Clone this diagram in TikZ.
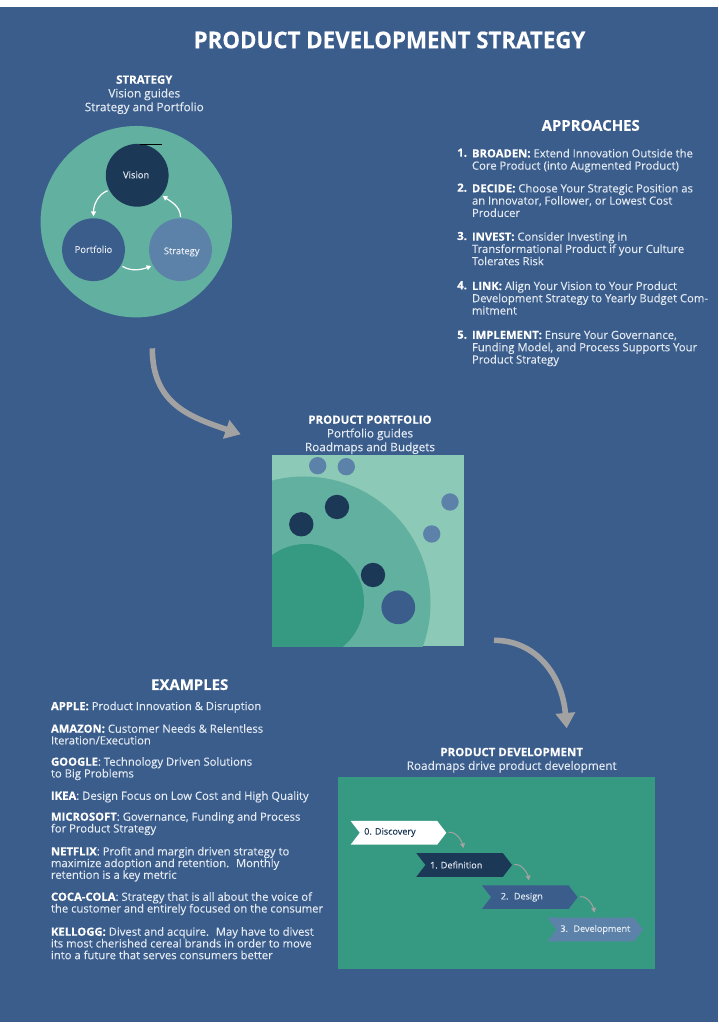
\documentclass[tikz,border=0pt]{standalone}
\usepackage{fontspec}
\setmainfont{Open Sans}[UprightFeatures={FakeBold=0.12},BoldFeatures={FakeBold=0.25}]
\usetikzlibrary{arrows.meta,shapes.symbols}
\definecolor{pagebg}{HTML}{3B5D8C}
\definecolor{softgreen}{HTML}{62B0A0}
\definecolor{deepgreen}{HTML}{369A83}
\definecolor{palegreen}{HTML}{8CC9B6}
\definecolor{navy}{HTML}{1C3857}
\definecolor{steel}{HTML}{5C82AA}
\definecolor{bodywhite}{HTML}{E4EAF2}
\definecolor{arrowgray}{HTML}{A2A2A2}
\tikzset{
  x=.75pt,y=.75pt,
  disc/.style={circle,minimum size=47.1pt,inner sep=0pt,outer sep=0pt,draw=none,text=bodywhite,font=\fontsize{7}{8}\selectfont},
  dot/.style={circle,inner sep=0pt,outer sep=0pt,draw=none},
  bodytext/.style={anchor=north west,inner sep=0pt,outer sep=0pt,align=left,text=bodywhite,yshift=5.9pt,
    execute at begin node={\rule{0pt}{7pt}}},
  appfont/.style={font=\fontsize{8.45}{9.2}\selectfont},
  exfont/.style={font=\fontsize{8.45}{8.8}\selectfont,yshift=.5pt},
  numtext/.style={anchor=base west,inner sep=0pt,outer sep=0pt,text=white,font=\fontsize{8.45}{9.2}\selectfont\bfseries},
  headtext/.style={anchor=north,inner sep=0pt,outer sep=0pt,align=center,text=bodywhite,yshift=5.9pt,
    font=\fontsize{8.8}{10.3}\selectfont,execute at begin node={\rule{0pt}{7pt}}},
  section/.style={anchor=base,inner sep=0pt,outer sep=0pt,text=white,font=\fontsize{11.2}{12}\selectfont\bfseries},
  chevron/.style={signal,signal to=east,signal from=west,signal pointer angle=105,
    minimum width=71.7pt,minimum height=17.7pt,inner sep=0pt,outer sep=0pt,draw=none},
  chevlabel/.style={font=\fontsize{6.8}{8}\selectfont,inner sep=0pt,outer sep=0pt},
  whitearrow/.style={draw=white,line width=.9pt,-{Triangle[width=3.6pt,length=3.6pt]}},
  grayarrow/.style={draw=arrowgray,line width=.75pt,-{Triangle[width=3.6pt,length=3.6pt]}},
  bigarrow/.style={draw=arrowgray,line width=4.2pt,-{Triangle[width=14.2pt,length=11.5pt]}},
}
\newcommand{\hb}[1]{\textbf{\color{white}#1}}
\newcommand{\hh}[1]{{\fontsize{8.6}{10.3}\selectfont\hb{#1}}}
\begin{document}
\begin{tikzpicture}
\useasboundingbox (0,0) rectangle (718,1024);
\fill[white] (0,0) rectangle (718,1024);
\fill[pagebg] (0,1.5) rectangle (718,1016.5);

\node[anchor=base,inner sep=0pt,text=white,xscale=.96,font=\fontsize{17.4}{20}\selectfont\bfseries] (title) at (389.5,975.7) {PRODUCT DEVELOPMENT STRATEGY};

% strategy
\node[headtext] (stratHead) at (144.3,940.7) {\hh{STRATEGY}\\Vision guides\\Strategy and Portfolio};
\fill[softgreen] (136.3,802.3) circle (95.7);
\node[disc,fill=navy,label={[text=bodywhite,font=\fontsize{7}{8}\selectfont,xshift=-.8pt,yshift=.3pt]center:Vision}] (vision) at (137.2,848.7) {};
\node[disc,fill=pagebg,label={[text=bodywhite,font=\fontsize{7}{8}\selectfont,yshift=.3pt]center:Portfolio}] (portfolio) at (93.5,774.3) {};
\node[disc,fill=steel,label={[text=bodywhite,font=\fontsize{7}{8}\selectfont,xshift=.9pt,yshift=-1.7pt]center:Strategy}] (strategy) at (180.5,774.3) {};
\draw[black,line width=.6pt] (140,879.7) -- (161.7,879.7);
\draw[whitearrow,shorten <=1.5pt,shorten >=1.5pt] (vision.208) to[out=200,in=90] (portfolio.north);
\draw[whitearrow,shorten <=1.5pt,shorten >=1.5pt] (portfolio.-30) to[out=-30,in=200] (strategy.210);
\draw[whitearrow,shorten <=1pt,shorten >=1pt] (strategy.north) to[out=90,in=-35] (vision.-39);

% approaches
\node[section] (appHead) at (590.7,893.2) {APPROACHES};
\node[numtext] (n1) at (457.3,867.3) {1.};
\node[bodytext,appfont] (a1) at (472,867.3) {\hb{BROADEN:} Extend Innovation Outside the\\Core Product (into Augmented Product)};
\node[numtext] (n2) at (457.3,832.3) {2.};
\node[bodytext,appfont] (a2) at (472,832.3) {\hb{DECIDE:} Choose Your Strategic Position as\\an Innovator, Follower, or Lowest Cost\\Producer};
\node[numtext] (n3) at (457.3,784) {3.};
\node[bodytext,appfont] (a3) at (472,784) {\hb{INVEST:} Consider Investing in\\Transformational Product if your Culture\\Tolerates Risk};
\node[numtext] (n4) at (457.3,734.7) {4.};
\node[bodytext,appfont] (a4) at (472,734.7) {\hb{LINK:} Align Your Vision to Your Product\\Development Strategy to Yearly Budget Com-\\mitment};
\node[numtext] (n5) at (457.3,685.3) {5.};
\node[bodytext,appfont] (a5) at (472,685.3) {\hb{IMPLEMENT:} Ensure Your Governance,\\Funding Model, and Process Supports Your\\Product Strategy};

% flow arrows
\coordinate (flowAstart) at (152.3,675.7);
\coordinate (flowAend) at (240.7,589.7);
\coordinate (flowBstart) at (494,383.7);
\coordinate (flowBend) at (566.7,295.7);
\draw[bigarrow] (flowAstart) .. controls (152.3,620) and (190,607) .. (flowAend);
\draw[bigarrow] (flowBstart) .. controls (535,383.7) and (562,350) .. (flowBend);

% portfolio
\node[headtext] (portHead) at (370,600.7) {\hh{PRODUCT PORTFOLIO}\\Portfolio guides\\Roadmaps and Budgets};
\fill[palegreen] (272,377.7) rectangle (463.7,569.3);
\begin{scope}
\clip (272,377.7) rectangle (463.7,569.3);
\fill[softgreen] (304,421) circle (126.5);
\fill[deepgreen] (306,422) circle (58);
\end{scope}
\node[dot,fill=steel,minimum size=13pt] (d1) at (317.7,558.3) {};
\node[dot,fill=steel,minimum size=13pt] (d2) at (346.3,557.3) {};
\node[dot,fill=steel,minimum size=13pt] (d3) at (450,522) {};
\node[dot,fill=steel,minimum size=13pt] (d4) at (431.7,490) {};
\node[dot,fill=navy,minimum size=18.3pt] (d5) at (337,517) {};
\node[dot,fill=navy,minimum size=18.3pt] (d6) at (301.3,499.7) {};
\node[dot,fill=navy,minimum size=18.3pt] (d7) at (373,449) {};
\node[dot,fill=pagebg,minimum size=25.3pt] (d8) at (398.3,416.7) {};

% examples
\node[section] (exHead) at (189.7,334) {EXAMPLES};
\node[bodytext,exfont] (e1) at (51,314.7) {\hb{APPLE:} Product Innovation \& Disruption};
\node[bodytext,exfont] (e2) at (51,291.3) {\hb{AMAZON:} Customer Needs \& Relentless\\Iteration/Execution};
\node[bodytext,exfont] (e3) at (51,258.3) {\hb{GOOGLE}: Technology Driven Solutions\\to Big Problems};
\node[bodytext,exfont] (e4) at (51,225) {\hb{IKEA}: Design Focus on Low Cost and High Quality};
\node[bodytext,exfont] (e5) at (51,203.3) {\hb{MICROSOFT}: Governance, Funding and Process\\for Product Strategy};
\node[bodytext,exfont] (e6) at (51,168.7) {\hb{NETFLIX}: Profit and margin driven strategy to\\maximize adoption and retention.~ Monthly\\retention is a key metric};
\node[bodytext,exfont] (e7) at (51,123.3) {\hb{COCA-COLA}: Strategy that is all about the voice of\\the customer and entirely focused on the consumer};
\node[bodytext,exfont] (e8) at (51,88.3) {\hb{KELLOGG:} Divest and acquire.~ May have to divest\\its most cherished cereal brands in order to move\\into a future that serves consumers better};

% development
\node[headtext] (devHead) at (511.7,268.3) {\hh{PRODUCT DEVELOPMENT}\\Roadmaps drive product development};
\fill[deepgreen] (338,55.3) rectangle (655,247);
\node[chevron,fill=white,label={[chevlabel,text=navy,xshift=-6.4pt,yshift=.3pt]center:0. Discovery}] (discovery) at (398.5,191.2) {};
\node[chevron,fill=navy,label={[chevlabel,text=bodywhite,xshift=-6pt]center:1. Definition}] (definition) at (464.2,159) {};
\node[chevron,fill=pagebg,label={[chevlabel,text=bodywhite,xshift=-6pt]center:2.~ Design}] (design) at (529.8,126.8) {};
\node[chevron,fill=steel,label={[chevlabel,text=bodywhite]center:3.~ Development}] (development) at (595.3,94.5) {};
\draw[grayarrow,shorten <=1.8pt,shorten >=3.8pt] (discovery.east) to[out=10,in=100] (definition.north);
\draw[grayarrow,shorten <=1.8pt,shorten >=3.8pt] (definition.east) to[out=10,in=100] (design.north);
\draw[grayarrow,shorten <=1.8pt,shorten >=3.8pt] (design.east) to[out=10,in=100] (development.north);
\end{tikzpicture}
\end{document}
